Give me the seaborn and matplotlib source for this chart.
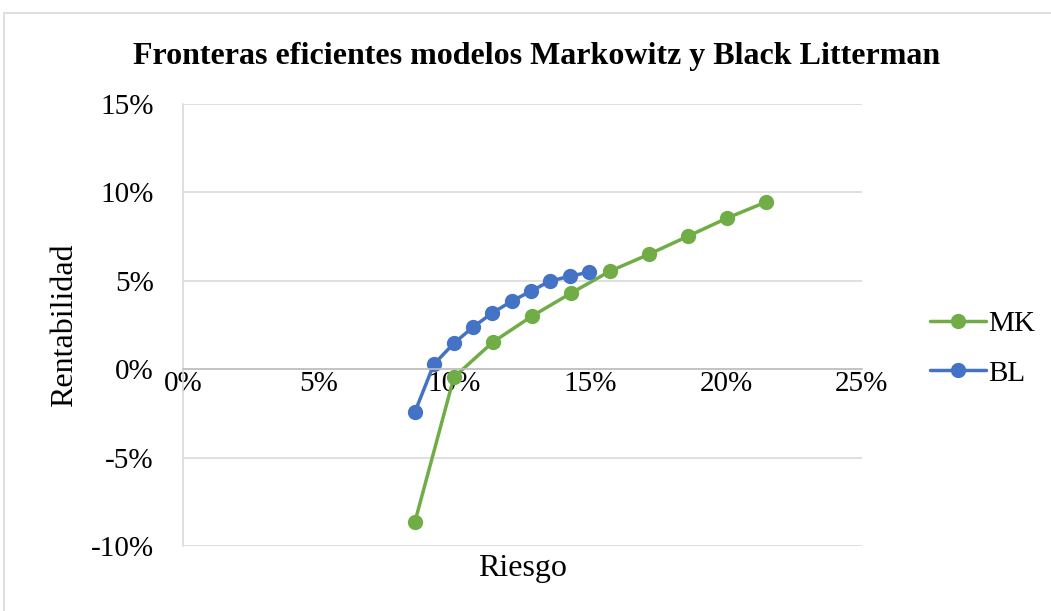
import pandas as pd
import matplotlib.pyplot as plt
import matplotlib.ticker as mtick
import seaborn as sns

# riesgo / rentabilidad (in %)
mk_riesgo = [8.54, 9.98, 11.41, 12.85, 14.29, 15.72, 17.16, 18.60, 20.03, 21.47]
mk_rent = [-8.65, -0.45, 1.53, 3.00, 4.30, 5.54, 6.50, 7.52, 8.54, 9.45]
bl_riesgo = [8.54, 9.24, 9.98, 10.68, 11.38, 12.11, 12.81, 13.51, 14.25, 14.95]
bl_rent = [-2.43, 0.28, 1.47, 2.38, 3.17, 3.85, 4.41, 4.98, 5.26, 5.49]
series = ['MK', 'BL']

df = pd.concat([
    pd.DataFrame({'Riesgo': mk_riesgo, 'Rentabilidad': mk_rent, 'Modelo': 'MK'}),
    pd.DataFrame({'Riesgo': bl_riesgo, 'Rentabilidad': bl_rent, 'Modelo': 'BL'}),
])

sns.set_style('white')
plt.rcParams['font.family'] = ['Liberation Serif', 'DejaVu Serif']
plt.rcParams['text.color'] = 'black'
plt.rcParams['axes.labelcolor'] = 'black'
plt.rcParams['xtick.color'] = 'black'
plt.rcParams['ytick.color'] = 'black'

fig = plt.figure(figsize=(10.51, 6.11), dpi=100)
ax = fig.add_axes([0.174, 0.106, 0.646, 0.724])

sns.lineplot(data=df, x='Riesgo', y='Rentabilidad', hue='Modelo', hue_order=series,
             palette={'MK': '#70AD47', 'BL': '#4472C4'}, sort=False,
             marker='o', markersize=11, markeredgewidth=0, linewidth=2.5, ax=ax)

ax.set_xlim(0, 25)
ax.set_ylim(-10, 15)
ax.set_xticks(range(0, 26, 5))
ax.set_yticks(range(-10, 16, 5))
ax.xaxis.set_major_formatter(mtick.FuncFormatter(lambda v, p: f'{v:.0f}%'))
ax.yaxis.set_major_formatter(mtick.FuncFormatter(lambda v, p: f'{v:.0f}%'))
ax.grid(axis='y', color='#d9d9d9', linewidth=1.2)
ax.set_axisbelow(True)
for s in ['top', 'right']:
    ax.spines[s].set_visible(False)
ax.spines['bottom'].set_position(('data', 0))
ax.spines['bottom'].set_color('#bfbfbf')
ax.spines['left'].set_color('#d9d9d9')
ax.spines['bottom'].set_linewidth(1.2)
ax.spines['left'].set_linewidth(1.2)
ax.tick_params(axis='y', length=0, labelsize=21, pad=21)
ax.tick_params(axis='x', length=0, labelsize=21, pad=1)

ax.set_xlabel('')
ax.set_ylabel('Rentabilidad', fontsize=23)
ax.yaxis.set_label_coords(-0.153, 0.5)
fig.text(0.497, 0.07, 'Riesgo', fontsize=23, ha='center', va='center')
fig.suptitle('Fronteras eficientes modelos Markowitz y Black Litterman',
             fontsize=23, fontweight='bold', x=0.511, y=0.908, va='center')

leg = ax.legend(loc='center left', bbox_to_anchor=(1.062, 0.447), frameon=False,
                fontsize=21, handlelength=1.9, handletextpad=0.1, labelspacing=0.8)

fig.patches.append(plt.Rectangle((0.004, -0.01), 1.0, 0.989, transform=fig.transFigure,
                                 fill=False, edgecolor='#d9d9d9', linewidth=1.2))

fig.savefig('out.png', dpi=100)
